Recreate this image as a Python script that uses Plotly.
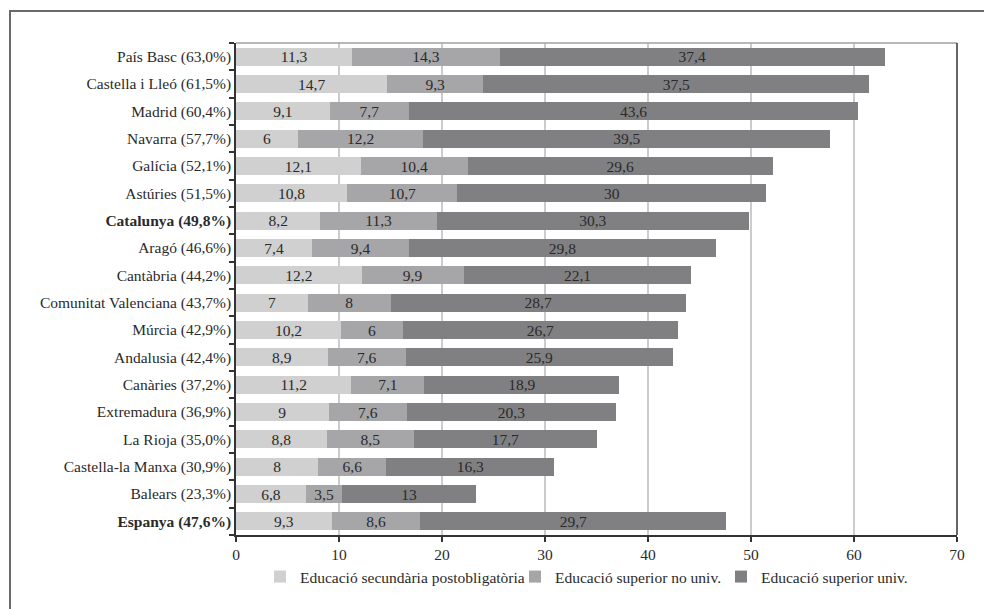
import plotly.graph_objects as go

regions = ["País Basc (63,0%)", "Castella i Lleó (61,5%)", "Madrid (60,4%)", "Navarra (57,7%)",
           "Galícia (52,1%)", "Astúries (51,5%)", "Catalunya (49,8%)", "Aragó (46,6%)",
           "Cantàbria (44,2%)", "Comunitat Valenciana (43,7%)", "Múrcia (42,9%)",
           "Andalusia (42,4%)", "Canàries (37,2%)", "Extremadura (36,9%)", "La Rioja (35,0%)",
           "Castella-la Manxa (30,9%)", "Balears (23,3%)", "Espanya (47,6%)"]
bold_regions = ["Catalunya (49,8%)", "Espanya (47,6%)"]

secundaria = [11.3, 14.7, 9.1, 6, 12.1, 10.8, 8.2, 7.4, 12.2, 7, 10.2, 8.9, 11.2, 9, 8.8, 8, 6.8, 9.3]
superior_no_univ = [14.3, 9.3, 7.7, 12.2, 10.4, 10.7, 11.3, 9.4, 9.9, 8, 6, 7.6, 7.1, 7.6, 8.5, 6.6, 3.5, 8.6]
superior_univ = [37.4, 37.5, 43.6, 39.5, 29.6, 30, 30.3, 29.8, 22.1, 28.7, 26.7, 25.9, 18.9, 20.3, 17.7, 16.3, 13, 29.7]

series_names = ["Educació secundària postobligatòria", "Educació superior no univ.", "Educació superior univ."]
series_values = [secundaria, superior_no_univ, superior_univ]
colors = ["#d0d0d0", "#a6a6a8", "#808083"]

x_ticks = [0, 10, 20, 30, 40, 50, 60, 70]

FONT = "Liberation Serif"
FS = 15.5
TXT = "#2a2a2a"

def fmt(v):
    return str(v).replace(".", ",")

L, R, T, B = 236, 27, 43, 74
W, H = 984, 609
pw, ph = W - L - R, H - T - B

def px_x(p):
    return (p - L) / pw

def px_y(p):
    return 1 - (p - T) / ph

legend_ids = ["legend", "legend2", "legend3"]
legend_text_x = [300, 555, 761]  # pixel where each legend text starts
TEXT_OFFSET = 40

fig = go.Figure()
for name, vals, col, lid in zip(series_names, series_values, colors, legend_ids):
    fig.add_trace(go.Bar(
        y=regions, x=vals, name=name, orientation="h",
        marker=dict(color=col, line=dict(width=0)),
        text=[fmt(v) for v in vals], textposition="inside", insidetextanchor="middle",
        textangle=0, constraintext="none",
        textfont=dict(family=FONT, size=FS, color=TXT),
        cliponaxis=False, legend=lid,
    ))

ticktext = [f"<b>{r}</b>" if r in bold_regions else r for r in regions]

legend_common = dict(orientation="h", yanchor="middle", y=px_y(577), xanchor="left",
                     font=dict(family=FONT, size=FS, color=TXT), itemwidth=30,
                     bgcolor="rgba(0,0,0,0)", borderwidth=0)

fig.update_layout(
    barmode="stack",
    bargap=0.34,
    width=W, height=H,
    margin=dict(l=L, r=R, t=T, b=B, autoexpand=False),
    paper_bgcolor="white", plot_bgcolor="white",
    font=dict(family=FONT, size=FS, color=TXT),
    showlegend=True,
    legend=dict(x=px_x(legend_text_x[0] - TEXT_OFFSET), **legend_common),
    legend2=dict(x=px_x(legend_text_x[1] - TEXT_OFFSET), **legend_common),
    legend3=dict(x=px_x(legend_text_x[2] - TEXT_OFFSET), **legend_common),
    uniformtext=dict(mode="show", minsize=10),
)
fig.update_xaxes(range=[0, 70], tickvals=x_ticks, showgrid=True, gridcolor="#cccccc", gridwidth=2,
                 zeroline=False, showline=True, linecolor="#333333", linewidth=1.5,
                 ticks="outside", ticklen=5, tickcolor="#333333", tickwidth=1.5,
                 automargin=False,
                 tickfont=dict(family=FONT, size=FS, color=TXT))
fig.update_yaxes(categoryorder="array", categoryarray=regions, autorange="reversed",
                 tickvals=regions, ticktext=ticktext,
                 showline=True, linecolor="#333333", linewidth=1.5,
                 ticks="outside", ticklen=5, tickcolor="#333333", tickwidth=1.5,
                 tickson="boundaries", showgrid=False, automargin=False,
                 tickfont=dict(family=FONT, size=FS, color=TXT))

# plot area top (light) and right (dark) borders
fig.add_shape(type="line", xref="paper", yref="paper", x0=0, x1=1, y0=1, y1=1,
              line=dict(color="#a0a0a0", width=1.5))
fig.add_shape(type="line", xref="paper", yref="paper", x0=1, x1=1, y0=0, y1=1,
              line=dict(color="#333333", width=1.5))
# outer frame
fig.add_shape(type="rect", xref="paper", yref="paper",
              x0=px_x(10), x1=px_x(1000), y0=px_y(625), y1=px_y(11),
              line=dict(color="#6a6a6a", width=2), layer="below")

fig.write_html("out.html", config={"displayModeBar": False},
               post_script="document.body.style.margin='0';document.body.style.overflow='hidden';")
